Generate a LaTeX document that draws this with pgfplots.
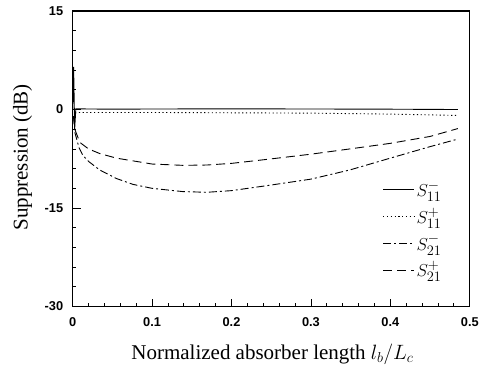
\documentclass[border=0pt]{standalone}
\usepackage{fontspec}
\setmainfont{Liberation Serif}
\setsansfont{Liberation Sans}
\usepackage{pgfplots}
\pgfplotsset{compat=1.18}
\begin{document}
\begin{tikzpicture}
\begin{axis}[
  name=ax,
  scale only axis,
  width=397.3pt, height=295.7pt,
  xmin=0, xmax=0.5, ymin=-30, ymax=15,
  xtick={0,0.1,0.2,0.3,0.4,0.5},
  xticklabels={0,0.1,0.2,0.3,0.4,0.5},
  ytick={-30,-15,0,15},
  minor xtick={0.02,0.04,...,0.48},
  minor ytick={-27,-24,-21,-18,-12,-9,-6,-3,3,6,9,12},
  tick pos=left,
  tick align=inside,
  major tick length=8pt,
  minor tick length=3.5pt,
  axis line style={line width=1.3pt},
  every tick/.style={line width=0.8pt, black},
  /pgf/number format/assume math mode=true,
  ticklabel style={font=\fontsize{12.8}{14}\sffamily\bfseries},
  xticklabel style={yshift=-7pt},
  yticklabel style={xshift=-6pt},
  xlabel={Normalized absorber length $l_b/L_c$},
  ylabel={Suppression (dB)},
  label style={font=\fontsize{21}{24}\selectfont},
  xlabel style={at={(axis description cs:0.503,0)}, anchor=base, yshift=-53pt},
  ylabel style={at={(axis description cs:-0.126,0.505)}, anchor=center},
  legend style={draw=none, fill=none, at={(0.942,0.44)}, anchor=north east,
    font=\fontsize{19}{22}\selectfont, row sep=6pt},
  legend cell align=left,
  legend image code/.code={\draw[#1] (0pt,0pt) -- (31pt,0pt);},
]
\addplot[black, line width=0.9pt] coordinates {
 (0,0) (0.0012,6.5) (0.0025,-3) (0.004,0.1) (0.05,0.05) (0.1,0.08) (0.2,0.1) (0.3,0.08) (0.4,0.05) (0.485,0)
};
\addlegendentry{$S_{11}^{-}$}
\addplot[black, line width=0.9pt, dash pattern=on 1.2pt off 2.6pt] coordinates {
 (0.003,-0.45) (0.05,-0.45) (0.1,-0.45) (0.2,-0.5) (0.3,-0.55) (0.4,-0.7) (0.485,-0.9)
};
\addlegendentry{$S_{11}^{+}$}
\addplot[black, line width=0.9pt, dash pattern=on 8pt off 3pt on 2pt off 3pt] coordinates {
 (0.001,-1) (0.003,-3.6) (0.008,-5.8) (0.013,-7.0) (0.02,-7.9) (0.034,-9.2) (0.055,-10.5) (0.076,-11.4) (0.1,-12.0) (0.139,-12.5) (0.169,-12.6) (0.2,-12.35) (0.244,-11.6) (0.3,-10.6) (0.349,-9.2) (0.4,-7.4) (0.45,-5.65) (0.485,-4.5)
};
\addlegendentry{$S_{21}^{-}$}
\addplot[black, line width=0.9pt, dash pattern=on 9pt off 5pt] coordinates {
 (0.001,-1) (0.003,-3.1) (0.009,-5.0) (0.02,-6.0) (0.034,-6.7) (0.055,-7.4) (0.1,-8.3) (0.139,-8.5) (0.169,-8.45) (0.2,-8.2) (0.244,-7.6) (0.3,-6.8) (0.349,-6.0) (0.4,-5.15) (0.45,-4.1) (0.485,-2.9)
};
\addlegendentry{$S_{21}^{+}$}
\end{axis}
\path[use as bounding box] ([shift={(-72.7pt,-68.3pt)}]ax.south west) rectangle ([shift={(12pt,11pt)}]ax.north east);
\end{tikzpicture}
\end{document}
